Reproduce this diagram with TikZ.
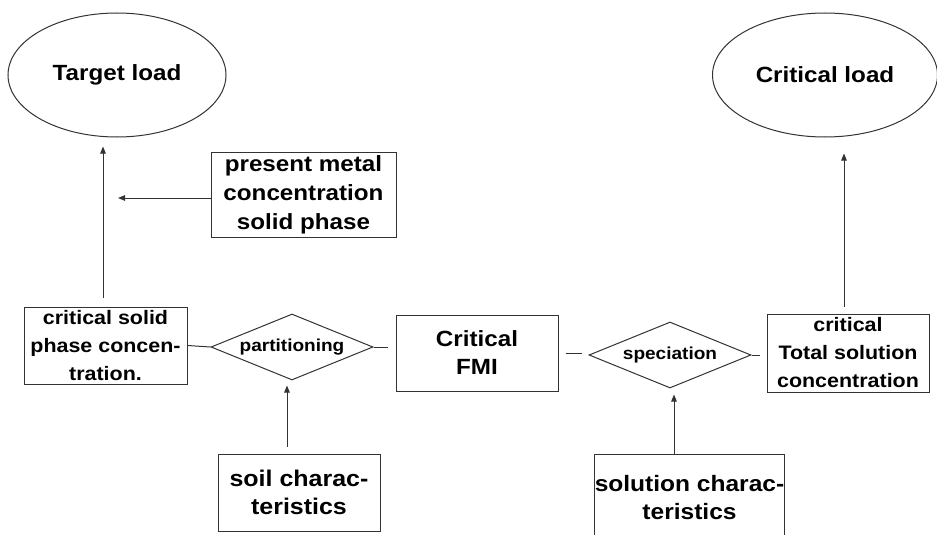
\documentclass[tikz,border=0pt]{standalone}
\usepackage{fontspec}
\setmainfont{Liberation Sans}[FakeStretch=1.1]
\usetikzlibrary{shapes.geometric,arrows.meta}
\tikzset{
  ln/.style={draw=black!80, line width=1pt},
  box/.style={ln, rectangle, inner sep=0pt, align=center, font=\bfseries},
  oval/.style={ln, ellipse, inner sep=0pt, align=center, font=\bfseries\fontsize{22}{26}\selectfont},
  dia/.style={ln, diamond, aspect=2.45, inner sep=0pt, minimum width=162pt, minimum height=66pt, font=\bfseries\fontsize{17.3}{20}\selectfont},
  arr/.style={ln, -{Triangle[length=7pt,width=5.5pt]}},
  fs/.style={font=\bfseries\fontsize{#1}{28}\selectfont}
}
\begin{document}
\begin{tikzpicture}[x=1pt,y=-1pt]
\useasboundingbox (0,0) rectangle (937,535);
\clip (0,0) rectangle (937,535);
\fill[white] (0,0) rectangle (937,535);

\node[oval, minimum width=218pt, minimum height=124pt] (TL) at (117,75) {Target load};
\node[oval, minimum width=225pt, minimum height=124pt] (CL) at (825,75) {Critical load};

\node[box, font=\bfseries\fontsize{22}{29}\selectfont, minimum width=185pt, minimum height=85pt] (PM) at (303.5,194.5) {present metal\\concentration\\solid phase};

\node[box, fs=19.5, minimum width=163pt, minimum height=77pt] (CS) at (105.5,345.5) {critical solid\\phase concen-\\tration.};
\node[dia] (PA) at (292,347) {partitioning};
\node[box, fs=22, minimum width=162pt, minimum height=76pt] (FMI) at (477,353) {Critical\\FMI};
\node[dia] (SP) at (670,355) {speciation};
\node[box, fs=19.5, minimum width=162pt, minimum height=78pt] (CT) at (848,353) {critical\\Total solution\\concentration};

\node[box, fs=22.7, minimum width=162pt, minimum height=77pt] (SO) at (299,492.5) {soil charac-\\teristics};
\node[box, fs=22.3, minimum width=185pt, minimum height=88pt] (SL) at (689.5,498) {solution charac-\\teristics};

\coordinate (pmend) at (118,198);

% arrows
\draw[arr, shorten <=9pt, shorten >=9pt] ([xshift=-2.5pt]CS.north) -- ([xshift=-2.5pt]CS.north |- TL.south);
\draw[arr] ([yshift=-3.5pt]PM.west) -- (pmend);
\draw[arr, shorten <=7pt, shorten >=16pt] ([xshift=-4pt]CT.north) -- ([xshift=-4pt]CT.north |- CL.south);
\draw[arr, shorten <=7pt, shorten >=5pt] ([xshift=-12pt]SO.north) -- ([xshift=-12pt]SO.north |- PA.south);
\draw[arr, shorten >=6pt] ([xshift=-15.5pt]SL.north) -- ([xshift=-15.5pt]SL.north |- SP.south);

% plain connectors
\draw[ln] (CS.east) -- (PA.west);
\draw[ln] (PA.east) -- ([xshift=-8pt]FMI.west |- PA.east);
\draw[ln, shorten <=7pt, shorten >=7pt] ([yshift=-0.5pt]FMI.east) -- ([yshift=1.5pt]SP.west);
\draw[ln] (SP.east) -- ([xshift=-7pt]CT.west |- SP.east);
\end{tikzpicture}
\end{document}
